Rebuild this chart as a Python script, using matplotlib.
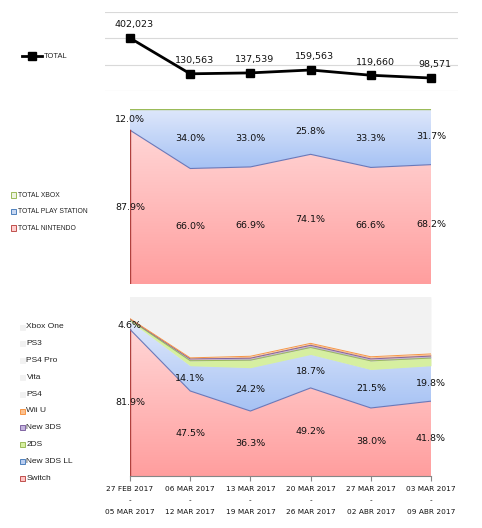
import numpy as np
import matplotlib
matplotlib.use('Agg')
import matplotlib.pyplot as plt
from matplotlib.colors import LinearSegmentedColormap
from matplotlib.lines import Line2D
from matplotlib.patches import Rectangle

# ---- data ----
week_start = ['27 FEB 2017', '06 MAR 2017', '13 MAR 2017', '20 MAR 2017', '27 MAR 2017', '03 MAR 2017']
week_end = ['05 MAR 2017', '12 MAR 2017', '19 MAR 2017', '26 MAR 2017', '02 ABR 2017', '09 ABR 2017']

total = [402023, 130563, 137539, 159563, 119660, 98571]

total_nintendo = [87.9, 66.0, 66.9, 74.1, 66.6, 68.2]
total_playstation = [12.0, 34.0, 33.0, 25.8, 33.3, 31.7]
total_xbox = [0.1, 0.0, 0.1, 0.1, 0.1, 0.1]

switch = [81.9, 47.5, 36.3, 49.2, 38.0, 41.8]
new_3ds_ll = [4.6, 14.1, 24.2, 18.7, 21.5, 19.8]
ds2 = [0.8, 2.8, 4.2, 3.9, 4.8, 4.3]
new_3ds = [0.3, 1.0, 1.1, 1.2, 1.1, 1.1]
wii_u = [0.3, 0.6, 1.1, 1.1, 1.2, 1.2]
ps4 = [9.0, 26.0, 25.5, 19.5, 25.5, 24.0]
vita = [0.8, 2.0, 2.0, 1.5, 1.8, 1.7]
ps4_pro = [2.0, 5.5, 5.0, 4.5, 5.5, 5.5]
ps3 = [0.2, 0.5, 0.5, 0.3, 0.5, 0.5]
xbox_one = [0.1, 0.0, 0.1, 0.1, 0.1, 0.1]

W, H = 482, 528
fig = plt.figure(figsize=(W / 100, H / 100), dpi=100)
fig.patch.set_facecolor('white')


def fx(px):
    return px / W


def fy(py):
    return 1 - py / H


def box(x0, y0, x1, y1):
    # pixel box -> figure rect
    return [fx(x0), fy(y1), fx(x1) - fx(x0), fy(y0) - fy(y1)]


x = np.arange(len(total))
LBL = dict(fontsize=6.8, family='DejaVu Sans', color='#111111')


def grad_fill(ax, lo, hi, c_top, c_bot, z):
    poly = ax.fill_between(x, lo, hi, facecolor='none', edgecolor='none', zorder=z)
    cmap = LinearSegmentedColormap.from_list('g', [c_bot, c_top])
    grad = np.linspace(0, 1, 256).reshape(-1, 1)
    im = ax.imshow(grad, cmap=cmap, origin='lower', aspect='auto',
                   extent=[x[0], x[-1], np.min(lo), np.max(hi)], zorder=z)
    im.set_clip_path(poly.get_paths()[0], ax.transData)


# ---- top: total line ----
ax1 = fig.add_axes(box(105, 12, 458, 91))
for g in [0, 200000, 400000, 600000]:
    ax1.axhline(g, color='#d9d9d9', lw=0.8, zorder=0)
ax1.plot(x, total, color='black', lw=2, marker='s', ms=6, zorder=3)
for xi, v in zip(x, total):
    ax1.annotate('{:,}'.format(v), (xi, v), xytext=(3, 9.5), textcoords='offset points',
                 ha='center', va='center', **LBL)
ax1.set_xlim(-25 / 60.2, 5 + 27 / 60.2)
ax1.set_ylim(0, 600000)
ax1.axis('off')

fig.add_artist(Line2D([fx(22), fx(42)], [fy(56), fy(56)], color='black', lw=2,
                      transform=fig.transFigure))
fig.add_artist(Line2D([fx(32)], [fy(56)], color='black', marker='s', ms=6,
                      transform=fig.transFigure))
fig.text(fx(44), fy(56), 'TOTAL', fontsize=5.4, family='Liberation Sans', va='center', color='#222222')

# ---- middle: totals by brand (100%) ----
ax2 = fig.add_axes(box(130, 109, 431, 284))
nin = np.array(total_nintendo)
psn = np.array(total_playstation)
xbx = np.array(total_xbox)
grad_fill(ax2, np.zeros(6), nin, '#ffd6d6', '#ff9e9e', 1)
grad_fill(ax2, nin, nin + psn, '#dfe8fb', '#a6c2f4', 1)
ax2.fill_between(x, nin + psn, nin + psn + xbx, color='#d7e4bd', lw=0, zorder=1)
ax2.plot(x, nin, color='#6b78b8', lw=0.8, zorder=2)
ax2.plot(x, nin + psn + xbx, color='#9bbb59', lw=1, zorder=2)
ax2.plot([x[0], x[0]], [0, nin[0]], color='#b0413e', lw=1, zorder=2)
for xi, a, b in zip(x, nin, psn):
    ax2.text(xi, a / 2, '{:.1f}%'.format(a), ha='center', va='center', zorder=4, **LBL)
    ax2.text(xi, a + b / 2, '{:.1f}%'.format(b), ha='center', va='center', zorder=4, **LBL)
ax2.set_xlim(x[0], x[-1])
ax2.set_ylim(0, 100)
ax2.axis('off')

mid_legend = [('TOTAL XBOX', '#eef4e2', '#9bbb59'),
              ('TOTAL PLAY STATION', '#c9d8f2', '#4f81bd'),
              ('TOTAL NINTENDO', '#ffd0d0', '#c0504d')]
for i, (name, fc, ec) in enumerate(mid_legend):
    yy = 195 + i * 16.5
    fig.add_artist(Rectangle((fx(11), fy(yy + 2.5)), fx(5), fy(0) - fy(5), facecolor=fc,
                             edgecolor=ec, lw=0.7, transform=fig.transFigure))
    fig.text(fx(17.5), fy(yy), name, fontsize=4.9, family='Liberation Sans',
             va='center', color='#222222')

# ---- bottom: by console (100%) ----
ax3 = fig.add_axes(box(130, 297, 431, 476))
ax3.set_facecolor('#f2f2f2')
series = [('Switch', switch), ('New 3DS LL', new_3ds_ll), ('2DS', ds2), ('New 3DS', new_3ds),
          ('Wii U', wii_u), ('PS4', ps4), ('Vita', vita), ('PS4 Pro', ps4_pro),
          ('PS3', ps3), ('Xbox One', xbox_one)]
solid = {'2DS': ('#d6efa0', '#9bbb59'), 'New 3DS': ('#c2b3dd', '#8064a2'),
         'Wii U': ('#fbc190', '#f79646')}
base = np.zeros(6)
for name, vals in series:
    v = np.array(vals)
    top = base + v
    if name == 'Switch':
        grad_fill(ax3, base, top, '#ffd6d6', '#ff9e9e', 1)
        ax3.plot([x[0], x[0]], [0, top[0]], color='#b0413e', lw=1, zorder=2)
    elif name == 'New 3DS LL':
        grad_fill(ax3, base, top, '#dfe8fb', '#a6c2f4', 1)
        ax3.plot(x, base, color='#6b78b8', lw=0.8, zorder=2)
    elif name in solid:
        ax3.fill_between(x, base, top, color=solid[name][0], lw=0, zorder=1)
        ax3.plot(x, top, color=solid[name][1], lw=0.7, zorder=2)
    else:
        ax3.fill_between(x, base, top, color='#f2f2f2', lw=0, zorder=1)
    if name in ('Switch', 'New 3DS LL'):
        for xi, b, vv in zip(x, base, v):
            ax3.text(xi, b + vv / 2, '{:.1f}%'.format(vv), ha='center', va='center', zorder=4, **LBL)
    base = top
ax3.set_xlim(x[0], x[-1])
ax3.set_ylim(0, 100)
for s in ['top', 'left', 'right']:
    ax3.spines[s].set_visible(False)
ax3.spines['bottom'].set_color('#868686')
ax3.spines['bottom'].set_linewidth(0.8)
ax3.set_yticks([])
ax3.set_xticks(x)
ax3.set_xticklabels([a + '\n-\n' + b for a, b in zip(week_start, week_end)],
                    fontsize=5.3, family='DejaVu Sans', linespacing=2.15, color='#111111')
ax3.tick_params(axis='x', length=3.5, width=0.8, color='#868686', pad=3.5)

bot_legend = {'2DS': ('#d6efa0', '#9bbb59'), 'New 3DS': ('#c2b3dd', '#8064a2'),
              'Wii U': ('#fbc190', '#f79646'), 'Switch': ('#ffc4c4', '#c0504d'),
              'New 3DS LL': ('#b9cdf0', '#4f81bd')}
for i, (name, vals) in enumerate(reversed(series)):
    yy = 327 + i * 16.8
    fc, ec = bot_legend.get(name, ('#f2f2f2', '#f2f2f2'))
    fig.add_artist(Rectangle((fx(20), fy(yy + 2.5)), fx(5), fy(0) - fy(5), facecolor=fc,
                             edgecolor=ec, lw=0.7, transform=fig.transFigure))
    fig.text(fx(26.5), fy(yy), name, fontsize=6.0, family='Liberation Sans',
             va='center', color='#222222')

fig.savefig('out.png', dpi=100)
